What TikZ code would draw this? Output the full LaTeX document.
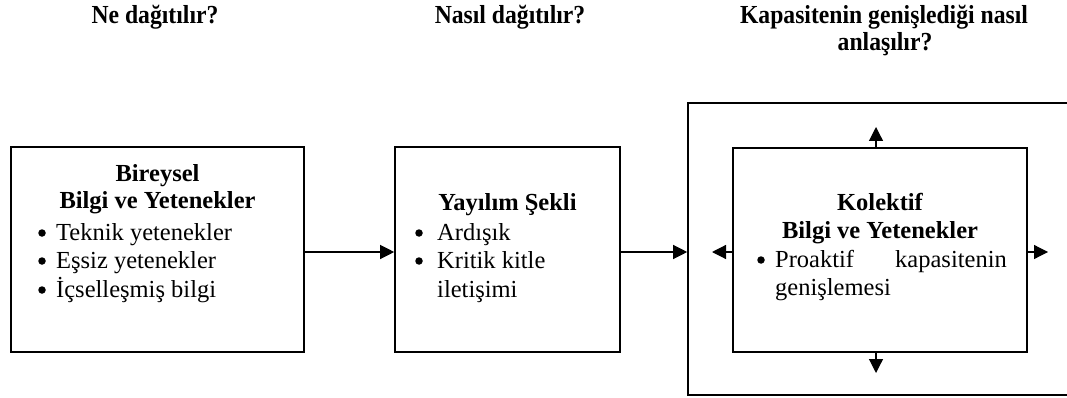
\documentclass[tikz,border=0pt]{standalone}
\usepackage{fontspec}
\setmainfont{Liberation Serif}
\usetikzlibrary{arrows.meta}
\begin{document}
\begin{tikzpicture}[x=1pt,y=-1pt,
  box/.style={draw,line width=1.6pt,inner sep=0pt},
  txt/.style={inner sep=0pt,font=\fontsize{24.5}{28}\selectfont},
  head/.style={inner sep=0pt,font=\fontsize{24.5}{28}\selectfont\bfseries},
  title/.style={inner sep=0pt,xscale=0.91,font=\fontsize{26}{29}\selectfont\bfseries},
  dot/.style={circle,fill,inner sep=0pt,minimum size=7.5pt},
  link/.style={line width=1.2pt,-{Triangle[length=14pt,width=14pt]}}]
\useasboundingbox (0,0) rectangle (1067,398);

% column titles
\node[title,anchor=base] (q1) at (155,24) {Ne dağıtılır?};
\node[title,anchor=base] (q2) at (510,24) {Nasıl dağıtılır?};
\node[title,anchor=base] (q3a) at (884,24) {Kapasitenin genişlediği nasıl};
\node[title,anchor=base] (q3b) at (885,51) {anlaşılır?};

% boxes
\node[box,minimum width=293pt,minimum height=205pt] (b1) at (157.5,249.5) {};
\node[box,minimum width=225pt,minimum height=205pt] (b2) at (507.5,249.5) {};
\node[box,minimum width=381pt,minimum height=292pt] (outer) at (878.5,249) {};
\node[box,minimum width=294pt,minimum height=204pt] (b3) at (880,250) {};

% box 1
\node[head,anchor=base] (h1a) at (157.5,182) {Bireysel};
\node[head,anchor=base] (h1b) at (157.5,208) {Bilgi ve Yetenekler};
\node[dot] (d1a) at (42,233) {};
\node[txt,anchor=base west] (i1a) at (56,240) {Teknik yetenekler};
\node[dot] (d1b) at (42,261) {};
\node[txt,anchor=base west] (i1b) at (56,268) {Eşsiz yetenekler};
\node[dot] (d1c) at (42,290) {};
\node[txt,anchor=base west] (i1c) at (56,297) {İçselleşmiş bilgi};

% box 2
\node[head,anchor=base] (h2) at (507.5,210) {Yayılım Şekli};
\node[dot] (d2a) at (419,233) {};
\node[txt,anchor=base west] (i2a) at (437,240) {Ardışık};
\node[dot] (d2b) at (419,261) {};
\node[txt,anchor=base west] (i2b) at (437,268) {Kritik kitle};
\node[txt,anchor=base west] (i2c) at (437,297) {iletişimi};

% box 3
\node[head,anchor=base] (h3a) at (880,210) {Kolektif};
\node[head,anchor=base] (h3b) at (880,238) {Bilgi ve Yetenekler};
\node[dot] (d3a) at (761,260) {};
\node[txt,anchor=base west] (i3a) at (775,267) {Proaktif};
\node[txt,anchor=base east] (i3b) at (1007,267) {kapasitenin};
\node[txt,anchor=base west] (i3c) at (775,295) {genişlemesi};

% connectors between the stages
\draw[link] ([yshift=-2.5pt]b1.east) -- ([yshift=-2.5pt]b2.west);
\draw[link] ([yshift=-2.5pt]b2.east) -- ([yshift=-3pt]outer.west);

% expansion arrows around the collective box
\coordinate (up) at (876,127);
\coordinate (dn) at (876,373);
\coordinate (lf) at (712,252);
\coordinate (rt) at (1048,252);
\draw[link] (b3.north -| up) -- (up);
\draw[link] (b3.south -| dn) -- (dn);
\draw[link] (b3.west |- lf) -- (lf);
\draw[link] (b3.east |- rt) -- (rt);
\end{tikzpicture}
\end{document}
